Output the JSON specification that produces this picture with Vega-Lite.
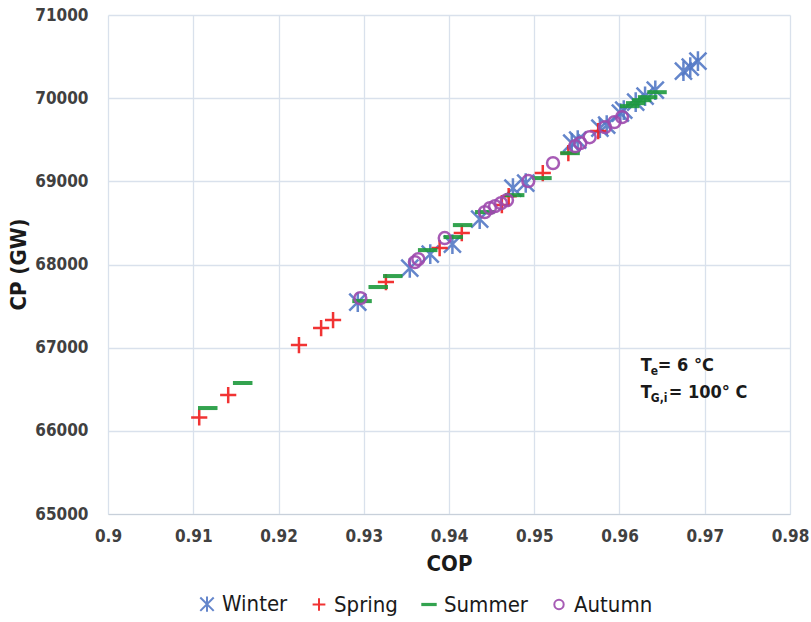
{
  "$schema": "https://vega.github.io/schema/vega-lite/v6.json",
  "width": 682,
  "height": 499,
  "autosize": {"type": "none"},
  "padding": {"left": 108, "top": 15, "right": 21, "bottom": 108},
  "background": "white",
  "config": {
    "font": "Liberation Sans Narrow, DejaVu Sans Condensed, sans-serif",
    "view": {"stroke": null},
    "axis": {
      "gridColor": "#D9E1EC",
      "gridWidth": 1.3,
      "domainColor": "#C8D0DA",
      "ticks": false,
      "labelFont": "Liberation Sans Narrow, DejaVu Sans Condensed, sans-serif",
      "labelFontSize": 17,
      "labelFontWeight": "bold",
      "labelColor": "#404040",
      "titleFont": "Liberation Sans Narrow, DejaVu Sans Condensed, sans-serif",
      "titleFontSize": 22,
      "titleFontWeight": "bold",
      "titleColor": "#1a1a1a"
    }
  },
  "datasets": {
    "points": [
      {"season": "Winter", "cop": 0.9293, "cp": 67548},
      {"season": "Winter", "cop": 0.9354, "cp": 67957},
      {"season": "Winter", "cop": 0.9378, "cp": 68125},
      {"season": "Winter", "cop": 0.9404, "cp": 68245},
      {"season": "Winter", "cop": 0.9436, "cp": 68546},
      {"season": "Winter", "cop": 0.9475, "cp": 68919},
      {"season": "Winter", "cop": 0.9490, "cp": 68979},
      {"season": "Winter", "cop": 0.9544, "cp": 69459},
      {"season": "Winter", "cop": 0.9551, "cp": 69495},
      {"season": "Winter", "cop": 0.9577, "cp": 69640},
      {"season": "Winter", "cop": 0.9585, "cp": 69676},
      {"season": "Winter", "cop": 0.9601, "cp": 69820},
      {"season": "Winter", "cop": 0.9605, "cp": 69856},
      {"season": "Winter", "cop": 0.9619, "cp": 69952},
      {"season": "Winter", "cop": 0.9630, "cp": 70024},
      {"season": "Winter", "cop": 0.9642, "cp": 70096},
      {"season": "Winter", "cop": 0.9675, "cp": 70325},
      {"season": "Winter", "cop": 0.9683, "cp": 70373},
      {"season": "Winter", "cop": 0.9692, "cp": 70445},
      {"season": "Spring", "cop": 0.9107, "cp": 66160},
      {"season": "Spring", "cop": 0.9141, "cp": 66430},
      {"season": "Spring", "cop": 0.9224, "cp": 67031},
      {"season": "Spring", "cop": 0.9250, "cp": 67236},
      {"season": "Spring", "cop": 0.9264, "cp": 67332},
      {"season": "Spring", "cop": 0.9326, "cp": 67789},
      {"season": "Spring", "cop": 0.9389, "cp": 68197},
      {"season": "Spring", "cop": 0.9415, "cp": 68378},
      {"season": "Spring", "cop": 0.9462, "cp": 68714},
      {"season": "Spring", "cop": 0.9470, "cp": 68822},
      {"season": "Spring", "cop": 0.9510, "cp": 69099},
      {"season": "Spring", "cop": 0.9540, "cp": 69339},
      {"season": "Spring", "cop": 0.9575, "cp": 69604},
      {"season": "Summer", "cop": 0.9117, "cp": 66274},
      {"season": "Summer", "cop": 0.9158, "cp": 66575},
      {"season": "Summer", "cop": 0.9298, "cp": 67560},
      {"season": "Summer", "cop": 0.9317, "cp": 67729},
      {"season": "Summer", "cop": 0.9334, "cp": 67861},
      {"season": "Summer", "cop": 0.9375, "cp": 68173},
      {"season": "Summer", "cop": 0.9405, "cp": 68330},
      {"season": "Summer", "cop": 0.9416, "cp": 68474},
      {"season": "Summer", "cop": 0.9442, "cp": 68630},
      {"season": "Summer", "cop": 0.9477, "cp": 68834},
      {"season": "Summer", "cop": 0.9509, "cp": 69039},
      {"season": "Summer", "cop": 0.9542, "cp": 69339},
      {"season": "Summer", "cop": 0.9612, "cp": 69904},
      {"season": "Summer", "cop": 0.9619, "cp": 69940},
      {"season": "Summer", "cop": 0.9626, "cp": 69976},
      {"season": "Summer", "cop": 0.9633, "cp": 70012},
      {"season": "Summer", "cop": 0.9644, "cp": 70072},
      {"season": "Autumn", "cop": 0.9296, "cp": 67596},
      {"season": "Autumn", "cop": 0.9360, "cp": 68029},
      {"season": "Autumn", "cop": 0.9364, "cp": 68065},
      {"season": "Autumn", "cop": 0.9395, "cp": 68318},
      {"season": "Autumn", "cop": 0.9442, "cp": 68630},
      {"season": "Autumn", "cop": 0.9448, "cp": 68678},
      {"season": "Autumn", "cop": 0.9454, "cp": 68702},
      {"season": "Autumn", "cop": 0.9461, "cp": 68738},
      {"season": "Autumn", "cop": 0.9468, "cp": 68774},
      {"season": "Autumn", "cop": 0.9493, "cp": 69003},
      {"season": "Autumn", "cop": 0.9522, "cp": 69219},
      {"season": "Autumn", "cop": 0.9548, "cp": 69423},
      {"season": "Autumn", "cop": 0.9554, "cp": 69459},
      {"season": "Autumn", "cop": 0.9565, "cp": 69531},
      {"season": "Autumn", "cop": 0.9583, "cp": 69652},
      {"season": "Autumn", "cop": 0.9594, "cp": 69712},
      {"season": "Autumn", "cop": 0.9603, "cp": 69772}
    ]
  },
  "layer": [
    {
      "data": {"name": "points"},
      "mark": {"type": "point", "filled": false, "strokeWidth": 2.5, "size": 290, "opacity": 0.9},
      "encoding": {
        "x": {
          "field": "cop", "type": "quantitative", "title": "COP",
          "scale": {"domain": [0.9, 0.98], "nice": false, "zero": false},
          "axis": {"values": [0.9, 0.91, 0.92, 0.93, 0.94, 0.95, 0.96, 0.97, 0.98], "format": "~g", "labelPadding": 14, "titleY": 49, "titleBaseline": "middle", "labelFlush": false}
        },
        "y": {
          "field": "cp", "type": "quantitative", "title": "CP (GW)",
          "scale": {"domain": [65000, 71000], "nice": false, "zero": false},
          "axis": {"values": [65000, 66000, 67000, 68000, 69000, 70000, 71000], "format": "d", "labelPadding": 20, "titleX": -90, "titleY": 249, "titleAngle": -90, "titleAlign": "center", "titleBaseline": "middle", "domain": false}
        },
        "color": {
          "field": "season", "type": "nominal",
          "scale": {"domain": ["Winter", "Spring", "Summer", "Autumn"], "range": ["#5479C6", "#F01E1E", "#1E9A3C", "#9E4AAE"]},
          "legend": {
            "title": null, "orient": "none", "direction": "horizontal",
            "legendX": 88, "legendY": 578,
            "labelFontSize": 22, "labelFont": "Liberation Sans Narrow, DejaVu Sans Condensed, sans-serif",
            "labelColor": "#1a1a1a", "symbolSize": 180, "symbolStrokeWidth": 2,
            "columnPadding": 20, "labelOffset": 4
          }
        },
        "shape": {
          "field": "season", "type": "nominal",
          "scale": {
            "domain": ["Winter", "Spring", "Summer", "Autumn"],
            "range": [
              "M-1,-1L1,1M-1,1L1,-1M0,-1.15L0,1.15",
              "M-0.95,0L0.95,0M0,-0.95L0,0.95",
              "M-1,-0.09L1,-0.09L1,0.09L-1,0.09Z",
              "M0.7,0A0.7,0.7,0,1,1,-0.7,0A0.7,0.7,0,1,1,0.7,0Z"
            ]
          }
        }
      }
    },
    {
      "data": {"values": [{"cop": 0.9625, "cp": 66780}]},
      "mark": {"type": "text", "text": "T", "align": "left", "baseline": "middle", "fontSize": 18, "fontWeight": "bold", "color": "#1a1a1a"},
      "encoding": {"x": {"field": "cop", "type": "quantitative"}, "y": {"field": "cp", "type": "quantitative"}}
    },
    {
      "data": {"values": [{"cop": 0.9625, "cp": 66780}]},
      "mark": {"type": "text", "text": "e", "align": "left", "baseline": "middle", "fontSize": 12, "fontWeight": "bold", "dx": 10, "dy": 5, "color": "#1a1a1a"},
      "encoding": {"x": {"field": "cop", "type": "quantitative"}, "y": {"field": "cp", "type": "quantitative"}}
    },
    {
      "data": {"values": [{"cop": 0.9625, "cp": 66780}]},
      "mark": {"type": "text", "text": "= 6 °C", "align": "left", "baseline": "middle", "fontSize": 18, "fontWeight": "bold", "dx": 17, "color": "#1a1a1a"},
      "encoding": {"x": {"field": "cop", "type": "quantitative"}, "y": {"field": "cp", "type": "quantitative"}}
    },
    {
      "data": {"values": [{"cop": 0.9625, "cp": 66450}]},
      "mark": {"type": "text", "text": "T", "align": "left", "baseline": "middle", "fontSize": 18, "fontWeight": "bold", "color": "#1a1a1a"},
      "encoding": {"x": {"field": "cop", "type": "quantitative"}, "y": {"field": "cp", "type": "quantitative"}}
    },
    {
      "data": {"values": [{"cop": 0.9625, "cp": 66450}]},
      "mark": {"type": "text", "text": "G,i", "align": "left", "baseline": "middle", "fontSize": 12, "fontWeight": "bold", "dx": 10, "dy": 5, "color": "#1a1a1a"},
      "encoding": {"x": {"field": "cop", "type": "quantitative"}, "y": {"field": "cp", "type": "quantitative"}}
    },
    {
      "data": {"values": [{"cop": 0.9625, "cp": 66450}]},
      "mark": {"type": "text", "text": "= 100° C", "align": "left", "baseline": "middle", "fontSize": 18, "fontWeight": "bold", "dx": 28, "color": "#1a1a1a"},
      "encoding": {"x": {"field": "cop", "type": "quantitative"}, "y": {"field": "cp", "type": "quantitative"}}
    }
  ]
}
